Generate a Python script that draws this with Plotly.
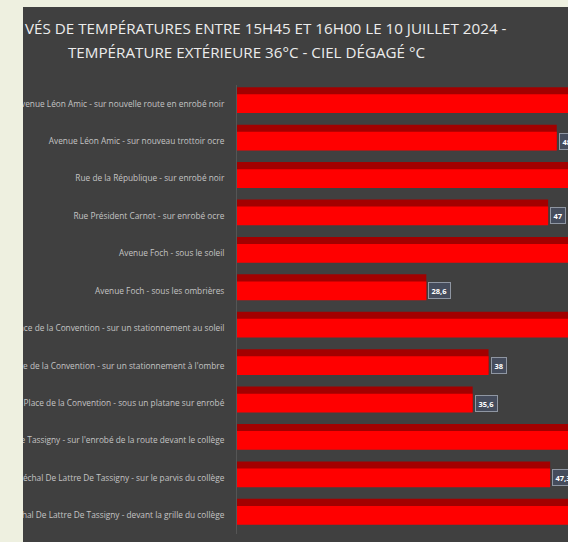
import plotly.graph_objects as go

# ---- data ----
categories = [
    "Avenue Léon Amic - sur nouvelle route en enrobé noir",
    "Avenue Léon Amic - sur nouveau trottoir ocre",
    "Rue de la République - sur enrobé noir",
    "Rue Président Carnot - sur enrobé ocre",
    "Avenue Foch - sous le soleil",
    "Avenue Foch - sous les ombrières",
    "Place de la Convention - sur un stationnement au soleil",
    "Place de la Convention - sur un stationnement à l'ombre",
    "Place de la Convention - sous un platane sur enrobé",
    "Rue Maréchal De Lattre De Tassigny - sur l'enrobé de la route devant le collège",
    "Rue Maréchal De Lattre De Tassigny - sur le parvis du collège",
    "Rue Maréchal De Lattre De Tassigny - devant la grille du collège",
]
values = [60.0, 48.3, 50.2, 47.0, 55.0, 28.6, 56.0, 38.0, 35.6, 58.0, 47.3, 52.0]
value_labels = [f"{v:g}".replace(".", ",") for v in values]
title_line1 = "VÉS DE TEMPÉRATURES ENTRE 15H45 ET 16H00 LE 10 JUILLET 2024 -"
title_line2 = "TEMPÉRATURE EXTÉRIEURE 36°C - CIEL DÉGAGÉ °C"

# ---- geometry ----
W, H = 568, 542
ML, MR, MT, MB = 237, 0, 85, 8
PW, PH = W - ML - MR, H - MT - MB

def px_x(p):
    return (p - ML) / PW

def px_y(p):
    return 1 - (p - MT) / PH

DARK = "#404040"
LIGHT = "#eef0e0"

fig = go.Figure()
# darker top band (3D effect)
fig.add_trace(go.Bar(
    y=categories, x=values, orientation="h",
    marker=dict(color="#a30000", line=dict(width=0)),
    width=0.66, offset=-0.44, hoverinfo="skip", showlegend=False,
))
# bright main bar
fig.add_trace(go.Bar(
    y=categories, x=values, orientation="h",
    marker=dict(color="#ff0000", line=dict(width=0)),
    width=0.5, offset=-0.25, showlegend=False,
))

annotations = []
for c, v, t in zip(categories, values, value_labels):
    annotations.append(dict(
        x=v, y=c, xref="x", yref="y", text=f"<b>{t}</b>", showarrow=False,
        xanchor="left", yanchor="middle", xshift=2,
        font=dict(family="Open Sans", size=7.5, color="#ffffff"),
        bgcolor="#454c5c", bordercolor="#8f96a2", borderwidth=1, borderpad=2.5,
    ))

annotations.append(dict(
    x=px_x(23), y=px_y(28), xref="paper", yref="paper", text=title_line1,
    showarrow=False, xanchor="left", yanchor="middle",
    font=dict(family="Open Sans", size=15.2, color="#ececec"),
))
annotations.append(dict(
    x=px_x(246.5), y=px_y(52), xref="paper", yref="paper", text=title_line2,
    showarrow=False, xanchor="center", yanchor="middle",
    font=dict(family="Open Sans", size=15.2, color="#ececec"),
))

shapes = [
    # light slide background strips (left and top)
    dict(type="rect", xref="paper", yref="paper", layer="above",
         x0=px_x(-5), x1=px_x(23), y0=px_y(H + 5), y1=px_y(-5),
         fillcolor=LIGHT, line=dict(width=0)),
    dict(type="rect", xref="paper", yref="paper", layer="above",
         x0=px_x(-5), x1=px_x(W + 5), y0=px_y(7), y1=px_y(-5),
         fillcolor=LIGHT, line=dict(width=0)),
]

fig.update_layout(
    template="none",
    width=W, height=H,
    margin=dict(l=ML, r=MR, t=MT, b=MB, autoexpand=False),
    paper_bgcolor=DARK, plot_bgcolor=DARK,
    barmode="overlay",
    showlegend=False,
    annotations=annotations,
    shapes=shapes,
    xaxis=dict(range=[0, 50], visible=False, showgrid=False, zeroline=False,
               automargin=False),
    yaxis=dict(categoryorder="array", categoryarray=categories,
               autorange="reversed", automargin=False,
               showgrid=False, zeroline=False,
               showline=True, linecolor="#555555", linewidth=1,
               ticks="", ticklabelstandoff=10,
               tickfont=dict(family="Open Sans", size=8.3, color="#c4c4c4")),
)

fig.write_html(
    "out.html",
    config={"displayModeBar": False},
    post_script="document.body.style.margin='0';document.body.style.overflow='hidden';",
)
